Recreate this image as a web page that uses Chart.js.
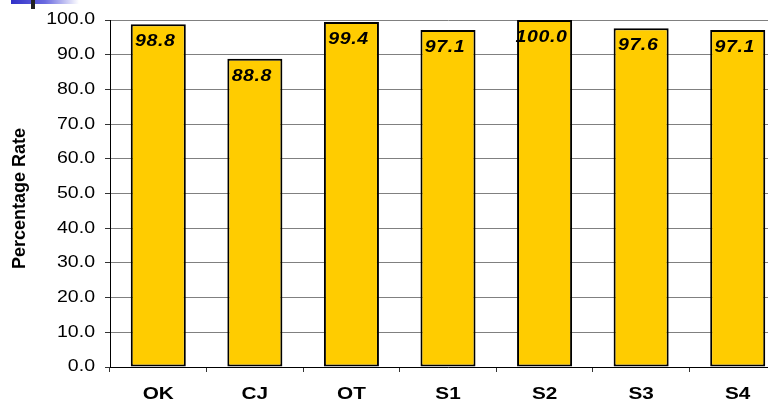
<!DOCTYPE html>
<html>
<head>
<meta charset="utf-8">
<script src="https://cdn.jsdelivr.net/npm/chart.js@4/dist/chart.umd.min.js"></script>
<style>
  html, body { margin: 0; padding: 0; background: #fff; overflow: hidden; }
  #wrap { position: relative; width: 768px; height: 407px; overflow: hidden; }
  #box { position: absolute; left: 0; top: 0; width: 800px; height: 407px; }
  #deco { position: absolute; left: 11px; top: 0; width: 68px; height: 4px;
          background: linear-gradient(to right, #3030c8, #6a6ae0 50%, #ffffff); }
  #decoTick { position: absolute; left: 31px; top: 0; width: 4px; height: 9px; background: #222; }
</style>
</head>
<body>
<div id="wrap">
  <div id="box"><canvas id="rateChart"></canvas></div>
  <div id="deco"></div>
  <div id="decoTick"></div>
</div>
<script>
const categories = ['OK', 'CJ', 'OT', 'S1', 'S2', 'S3', 'S4'];
const rates = [98.8, 88.8, 99.4, 97.1, 100.0, 97.6, 97.1];
const yTicks = [0, 10, 20, 30, 40, 50, 60, 70, 80, 90, 100];

const font = 'Liberation Sans, Arial, sans-serif';
const textStretch = 1.22; // the source chart's horizontal text is drawn wide

// value labels inside the top of each bar
const barLabels = {
    id: 'barLabels',
    afterDatasetsDraw(chart) {
        const c = chart.ctx;
        const meta = chart.getDatasetMeta(0);
        c.save();
        c.font = 'italic bold 16px ' + font;
        c.fillStyle = '#000';
        c.textAlign = 'center';
        c.textBaseline = 'alphabetic';
        c.letterSpacing = '0.5px';
        meta.data.forEach((bar, i) => {
            c.fillText(rates[i].toFixed(1), bar.x - 3, bar.y + 22);
        });
        c.restore();
    }
};

const canvas = document.getElementById('rateChart');
const ctx = canvas.getContext('2d');

// widen horizontal text around its anchor, leave rotated text alone
const rawFill = ctx.fillText.bind(ctx);
ctx.fillText = function (text, x, y, maxWidth) {
    const m = this.getTransform();
    if (Math.abs(m.b) > 1e-6) return rawFill(text, x, y, maxWidth);
    this.save();
    this.translate(x, y);
    this.scale(textStretch, 1);
    rawFill(text, 0, 0);
    this.restore();
};

new Chart(ctx, {
    type: 'bar',
    data: {
        labels: categories,
        datasets: [{
            data: rates,
            backgroundColor: '#FFCC00',
            borderColor: '#000',
            borderWidth: 2,
            borderSkipped: false,
            categoryPercentage: 1,
            barPercentage: 0.57
        }]
    },
    options: {
        responsive: true,
        maintainAspectRatio: false,
        animation: false,
        layout: { padding: { top: 20, right: 14, left: 0, bottom: 0 } },
        plugins: {
            legend: { display: false },
            tooltip: { enabled: false }
        },
        scales: {
            y: {
                min: 0,
                max: 100,
                afterFit: s => { s.width = 110; },
                afterBuildTicks: s => { s.ticks = yTicks.map(v => ({ value: v })); },
                ticks: {
                    callback: v => Number(v).toFixed(1),
                    color: '#000',
                    font: { family: font, size: 16 },
                    padding: 10
                },
                grid: { color: '#808080', lineWidth: 1, tickLength: 5, tickColor: '#333' },
                border: { color: '#000', width: 1 },
                title: {
                    display: true,
                    text: 'Percentage Rate  ',
                    color: '#000',
                    font: { family: font, size: 18, weight: 'bold' },
                    padding: { top: 9, bottom: 0 }
                }
            },
            x: {
                afterFit: s => { s.height = 40; },
                ticks: {
                    color: '#000',
                    font: { family: font, size: 17, weight: 'bold' },
                    padding: 12
                },
                grid: { drawOnChartArea: false, tickLength: 5, tickColor: '#333' },
                border: { color: '#000', width: 1 }
            }
        }
    },
    plugins: [barLabels]
});
</script>
</body>
</html>
